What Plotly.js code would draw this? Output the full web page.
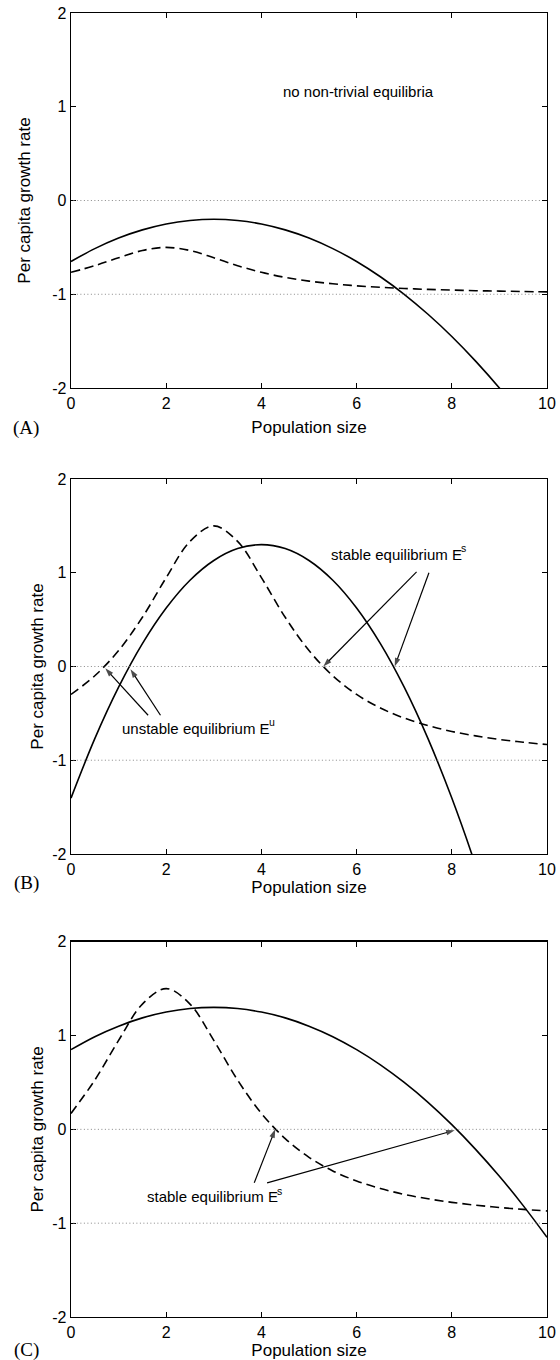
<!DOCTYPE html>
<html>
<head>
<meta charset="utf-8">
<script src="https://cdn.plot.ly/plotly-3.0.1.min.js"></script>
<style>
  html, body { margin: 0; padding: 0; background: #fff; }
  #chart { width: 560px; height: 1360px; }
</style>
</head>
<body>
<div id="chart"></div>
<script>
// ---- data ----
const populationSize = [0, 0.5, 1, 1.5, 2, 2.5, 3, 3.5, 4, 4.5, 5, 5.5, 6, 6.5, 7, 7.5, 8, 8.5, 9, 9.5, 10];

const solidA  = [-0.650, -0.513, -0.400, -0.313, -0.250, -0.213, -0.200, -0.213, -0.250, -0.313, -0.400, -0.513, -0.650, -0.813, -1.000, -1.213, -1.450, -1.713, -2.000, -2.313, -2.650];
const dashedA = [-0.766, -0.695, -0.611, -0.533, -0.500, -0.533, -0.611, -0.695, -0.766, -0.820, -0.860, -0.888, -0.910, -0.926, -0.938, -0.948, -0.955, -0.962, -0.966, -0.971, -0.974];

const solidB  = [-1.404, -0.770, -0.221, 0.244, 0.624, 0.920, 1.131, 1.258, 1.300, 1.258, 1.131, 0.920, 0.624, 0.244, -0.221, -0.770, -1.404, -2.122, -2.925, -3.810, -4.780];
const dashedB = [-0.298, -0.099, 0.170, 0.525, 0.948, 1.335, 1.500, 1.335, 0.948, 0.525, 0.170, -0.099, -0.298, -0.443, -0.550, -0.630, -0.693, -0.740, -0.778, -0.808, -0.833];

const solidC  = [0.850, 0.988, 1.100, 1.188, 1.250, 1.288, 1.300, 1.288, 1.250, 1.188, 1.100, 0.988, 0.850, 0.688, 0.500, 0.288, 0.050, -0.213, -0.500, -0.813, -1.150];
const dashedC = [0.170, 0.525, 0.948, 1.335, 1.500, 1.335, 0.948, 0.525, 0.170, -0.099, -0.298, -0.443, -0.550, -0.630, -0.693, -0.740, -0.778, -0.808, -0.833, -0.853, -0.870];

const xTickVals = [0, 2, 4, 6, 8, 10];
const xTickText = ["0", "2", "4", "6", "8", "10"];
const yTickVals = [-2, -1, 0, 1, 2];
const yTickText = ["-2", "-1", "0", "1", "2"];
const referenceLevels = [0, -1];

const panelLabels = ["(A)", "(B)", "(C)"];
const xTitle = "Population size";
const yTitle = "Per capita growth rate";
const noteA = "no non-trivial equilibria";
const noteStable = "stable equilibrium E";
const noteUnstable = "unstable equilibrium E";
const supStable = "s";
const supUnstable = "u";
// ---------------------------------------

const SANS = "Liberation Sans, Arial, Helvetica, sans-serif";
const SERIF = "Liberation Serif, Times New Roman, serif";

const panels = [
  { solid: solidA, dashed: dashedA },
  { solid: solidB, dashed: dashedB },
  { solid: solidC, dashed: dashedC }
];
const axisIds = [["x", "y"], ["x2", "y2"], ["x3", "y3"]];

const traces = [];
panels.forEach((p, i) => {
  const [xa, ya] = axisIds[i];
  traces.push({
    x: populationSize, y: p.solid, xaxis: xa, yaxis: ya,
    mode: "lines", line: { color: "#000", width: 1.6, shape: "spline" },
    hoverinfo: "skip", showlegend: false
  });
  traces.push({
    x: populationSize, y: p.dashed, xaxis: xa, yaxis: ya,
    mode: "lines", line: { color: "#000", width: 1.6, dash: "9px,5px", shape: "spline" },
    hoverinfo: "skip", showlegend: false
  });
});

// arrows pointing at the equilibria: [panel, tailX, tailY, headX, headY]
const arrowSpecs = [
  [1, 7.26, 1.01, 5.30, 0.0],
  [1, 7.52, 1.00, 6.80, 0.0],
  [1, 1.62, -0.52, 0.72, -0.02],
  [1, 1.88, -0.52, 1.25, -0.03],
  [2, 3.85, -0.57, 4.29, 0.0],
  [2, 4.12, -0.57, 8.06, -0.01]
];
arrowSpecs.forEach(a => {
  const [xa, ya] = axisIds[a[0]];
  traces.push({
    x: [a[1], a[3]], y: [a[2], a[4]], xaxis: xa, yaxis: ya,
    mode: "lines+markers",
    line: { color: "#000", width: 1.2 },
    marker: { symbol: "arrow", angleref: "previous", size: [0, 9], color: "#000",
              line: { width: 0 } },
    hoverinfo: "skip", showlegend: false, cliponaxis: false
  });
});

const yStandoffs = [17, 4, 4];
const xStandoffs = [10, 0, 0];

function xAxis(anchor, i) {
  return {
    domain: [0, 1], anchor: anchor, range: [0, 10],
    tickmode: "array", tickvals: xTickVals, ticktext: xTickText,
    ticks: "inside", ticklen: 5, tickwidth: 1, tickcolor: "#000",
    showline: true, linecolor: "#000", linewidth: 1.4, mirror: "ticks",
    showgrid: false, zeroline: false, fixedrange: true,
    tickfont: { family: SANS, size: 16, color: "#000" },
    title: { text: xTitle, standoff: xStandoffs[i], font: { family: SANS, size: 17, color: "#000" } }
  };
}
function yAxis(anchor, domain, i) {
  return {
    domain: domain, anchor: anchor, range: [-2, 2],
    tickmode: "array", tickvals: yTickVals, ticktext: yTickText,
    ticks: "inside", ticklen: 5, tickwidth: 1, tickcolor: "#000",
    showline: true, linecolor: "#000", linewidth: 1.4, mirror: "ticks",
    showgrid: false, zeroline: false, fixedrange: true,
    tickfont: { family: SANS, size: 16, color: "#000" },
    title: { text: yTitle, standoff: yStandoffs[i], font: { family: SANS, size: 17, color: "#000" } }
  };
}

const shapes = [];
axisIds.forEach(([xa, ya]) => {
  referenceLevels.forEach(level => {
    shapes.push({
      type: "line", xref: xa + " domain", yref: ya,
      x0: 0.005, x1: 0.99, y0: level, y1: level,
      line: { color: "#888", width: 1, dash: "1px,2.5px" }
    });
  });
});

const annotations = [];
const labelShifts = [-40, -29, -33];
axisIds.forEach(([xa, ya], i) => {
  annotations.push({
    text: panelLabels[i], xref: xa + " domain", yref: ya + " domain", x: 0, y: 0,
    xanchor: "center", yanchor: "middle", xshift: -45, yshift: labelShifts[i],
    showarrow: false, font: { family: SERIF, size: 19, color: "#000" }
  });
});

const textFont = { family: SANS, size: 15, color: "#000" };
const supFont = { family: SANS, size: 10.5, color: "#000" };
annotations.push({ text: noteA, xref: "x", yref: "y", x: 6.03, y: 1.16,
  showarrow: false, font: textFont });

// label with superscript: main text ends at x (right-anchored), superscript starts there
function supLabel(xa, ya, x, y, main, sup) {
  annotations.push({ text: main, xref: xa, yref: ya, x: x, y: y, xanchor: "right", yanchor: "middle",
    borderpad: 0, showarrow: false, font: textFont });
  annotations.push({ text: sup, xref: xa, yref: ya, x: x, y: y, xanchor: "left", yanchor: "middle",
    borderpad: 0, xshift: -3, yshift: 6, showarrow: false, font: supFont });
}
supLabel("x2", "y2", 8.24, 1.2, noteStable, supStable);
supLabel("x2", "y2", 4.21, -0.66, noteUnstable, supUnstable);
supLabel("x3", "y3", 4.38, -0.72, noteStable, supStable);

const layout = {
  width: 560, height: 1360,
  margin: { l: 71, r: 13, t: 13, b: 43 },
  paper_bgcolor: "#fff", plot_bgcolor: "#fff",
  font: { family: SANS, color: "#000" },
  showlegend: false,
  xaxis: xAxis("y", 0),
  xaxis2: xAxis("y2", 1),
  xaxis3: xAxis("y3", 2),
  yaxis: yAxis("x", [0.7124, 1], 0),
  yaxis2: yAxis("x2", [0.3551, 0.6426], 1),
  yaxis3: yAxis("x3", [0, 0.2878], 2),
  shapes: shapes,
  annotations: annotations
};

Plotly.newPlot("chart", traces, layout, { staticPlot: true, displayModeBar: false });
</script>
</body>
</html>
